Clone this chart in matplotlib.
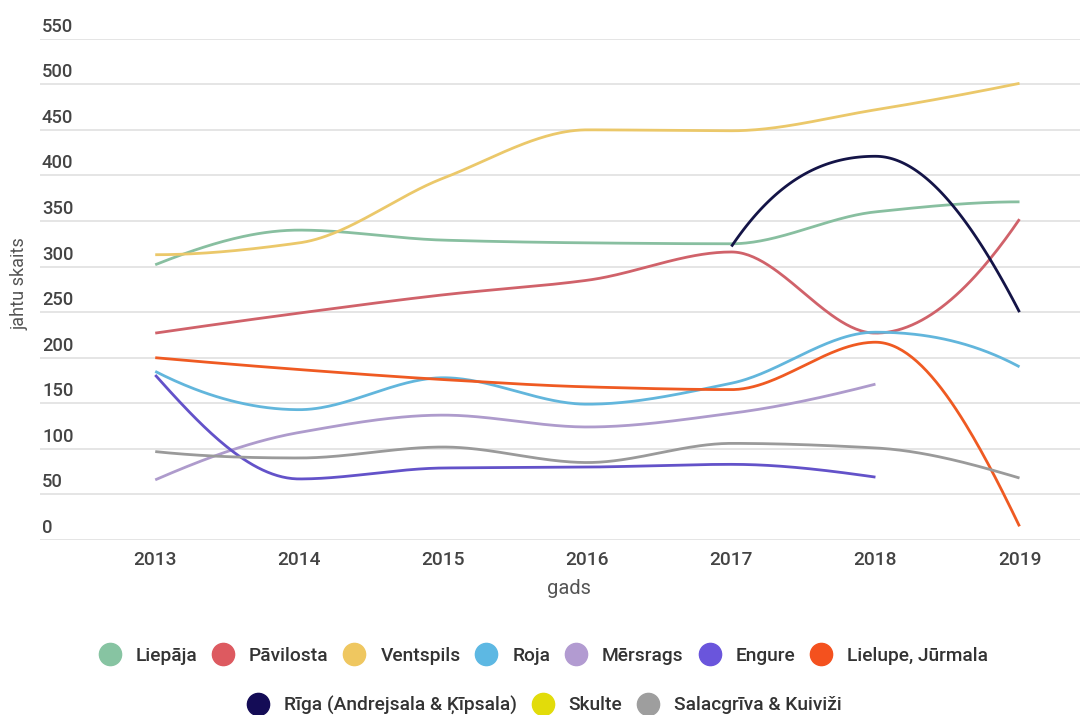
import numpy as np
import matplotlib
matplotlib.use("Agg")
import matplotlib.pyplot as plt
from matplotlib.lines import Line2D
from matplotlib import transforms

plt.rcParams['font.family'] = ['Roboto', 'DejaVu Sans']

years = [2013, 2014, 2015, 2016, 2017, 2018, 2019]
nan = np.nan

series_names = ["Liepāja", "Pāvilosta", "Ventspils", "Roja", "Mērsrags", "Engure",
                "Lielupe, Jūrmala", "Rīga (Andrejsala & Ķīpsala)", "Skulte",
                "Salacgrīva & Kuiviži"]

liepaja = [302, 340, 329, 326, 325, 360, 371]
pavilosta = [227, 249, 269, 285, 316, 227, 352]
ventspils = [313, 326, 397, 450, 449, 472, 501]
roja = [185, 143, 178, 149, 172, 228, 190]
mersrags = [66, 118, 137, 124, 139, 171, nan]
engure = [181, 67, 79, 80, 83, 69, nan]
lielupe = [200, 187, 176, 168, 165, 217, 15]
riga = [nan, nan, nan, nan, 322, 421, 250]
skulte = [nan, nan, nan, nan, nan, nan, nan]
salacgriva = [97, 90, 102, 85, 106, 101, 68]

series_values = [liepaja, pavilosta, ventspils, roja, mersrags, engure,
                 lielupe, riga, skulte, salacgriva]

legend_colors = ["#87c4a2", "#dd5a60", "#efc760", "#5db8e3", "#b29bd1", "#6a55dc",
                 "#f4511e", "#140c56", "#e2dc0a", "#9e9e9e"]
line_colors = ["#88bfa0", "#d0626a", "#ebc86a", "#62b6dc", "#ae9bcc", "#6352c9",
               "#ef5a22", "#141447", "#e2dc0a", "#9a9a9a"]

y_ticks = [0, 50, 100, 150, 200, 250, 300, 350, 400, 450, 500, 550]


def smooth(xs, ys, n=60):
    """Monotone cubic Hermite curve through the given points."""
    xs = np.asarray(xs, float)
    ys = np.asarray(ys, float)
    if len(xs) < 2:
        return xs, ys
    h = np.diff(xs)
    d = np.diff(ys) / h
    m = np.zeros_like(ys)
    for k in range(1, len(xs) - 1):
        if d[k - 1] * d[k] <= 0:
            m[k] = 0.0
        else:
            w1 = 2 * h[k] + h[k - 1]
            w2 = h[k] + 2 * h[k - 1]
            m[k] = (w1 + w2) / (w1 / d[k - 1] + w2 / d[k])

    def end_slope(h0, h1, d0, d1):
        s = ((2 * h0 + h1) * d0 - h0 * d1) / (h0 + h1)
        if np.sign(s) != np.sign(d0):
            s = 0.0
        elif np.sign(d0) != np.sign(d1) and abs(s) > abs(3 * d0):
            s = 3 * d0
        return s

    if len(xs) == 2:
        m[0] = m[1] = d[0]
    else:
        m[0] = end_slope(h[0], h[1], d[0], d[1])
        m[-1] = end_slope(h[-1], h[-2], d[-1], d[-2])

    out_x, out_y = [], []
    for k in range(len(xs) - 1):
        t = np.linspace(0, 1, n)
        h00 = 2 * t**3 - 3 * t**2 + 1
        h10 = t**3 - 2 * t**2 + t
        h01 = -2 * t**3 + 3 * t**2
        h11 = t**3 - t**2
        yy = h00 * ys[k] + h10 * h[k] * m[k] + h01 * ys[k + 1] + h11 * h[k] * m[k + 1]
        xx = xs[k] + t * h[k]
        out_x.append(xx)
        out_y.append(yy)
    return np.concatenate(out_x), np.concatenate(out_y)


W, H = 1080, 715
fig = plt.figure(figsize=(W / 100, H / 100), dpi=100)
ax_left, ax_right = 40, 1080
ax_top, ax_bottom = 38.7, 540
ax = fig.add_axes([ax_left / W, 1 - ax_bottom / H,
                   (ax_right - ax_left) / W, (ax_bottom - ax_top) / H])

ax.set_xlim(2012.2, 2019.42)
ax.set_ylim(0, 550)
for s in ax.spines.values():
    s.set_visible(False)
ax.tick_params(length=0)
ax.set_yticks(y_ticks)
ax.set_yticklabels([])
ax.grid(axis='y', color='#e3e3e3', linewidth=1.3)
ax.set_axisbelow(True)
ax.set_xticks(years)
ax.set_xticklabels([str(y) for y in years], fontsize=13.8, color='#444444',
                   fontweight='medium')
ax.tick_params(axis='x', pad=8)

# y tick labels sit just above their gridlines
lab_tr = transforms.offset_copy(ax.get_yaxis_transform(), fig=fig, x=2, y=3, units='dots')
for v in y_ticks:
    ax.text(0, v, str(v), transform=lab_tr, ha='left', va='bottom',
            fontsize=13.2, color='#444444', fontweight='medium')

for vals, col in zip(series_values, line_colors):
    arr = np.asarray(vals, float)
    ok = ~np.isnan(arr)
    if ok.sum() < 2:
        continue
    xs = np.asarray(years, float)[ok]
    sx, sy = smooth(xs, arr[ok])
    ax.plot(sx, sy, color=col, linewidth=2.0, solid_capstyle='butt', zorder=3)

fig.text(569 / W, 1 - 588 / H, "gads", ha='center', va='center', fontsize=14.5, color='#555555')
fig.text(20 / W, 1 - 284 / H, "jahtu skaits", ha='center', va='center', rotation=90,
         fontsize=13, color='#555555')

handles = [Line2D([], [], marker='o', linestyle='none', markersize=16,
                  markerfacecolor=c, markeredgecolor=c) for c in legend_colors]

leg_kw = dict(loc='center', frameon=False, fontsize=13.8, handlelength=1.0,
              handletextpad=0.85, columnspacing=0.85, borderpad=0, borderaxespad=0)
fig.legend(handles[:7], series_names[:7], ncol=7,
           bbox_to_anchor=(544 / W, 1 - 656 / H), **leg_kw)
fig.legend(handles[7:], series_names[7:], ncol=3,
           bbox_to_anchor=(545 / W, 1 - 705 / H), **leg_kw)
for leg in fig.legends:
    for t in leg.get_texts():
        t.set_color('#333333')
        t.set_fontweight('medium')

fig.savefig("out.png", dpi=100, facecolor='white')
